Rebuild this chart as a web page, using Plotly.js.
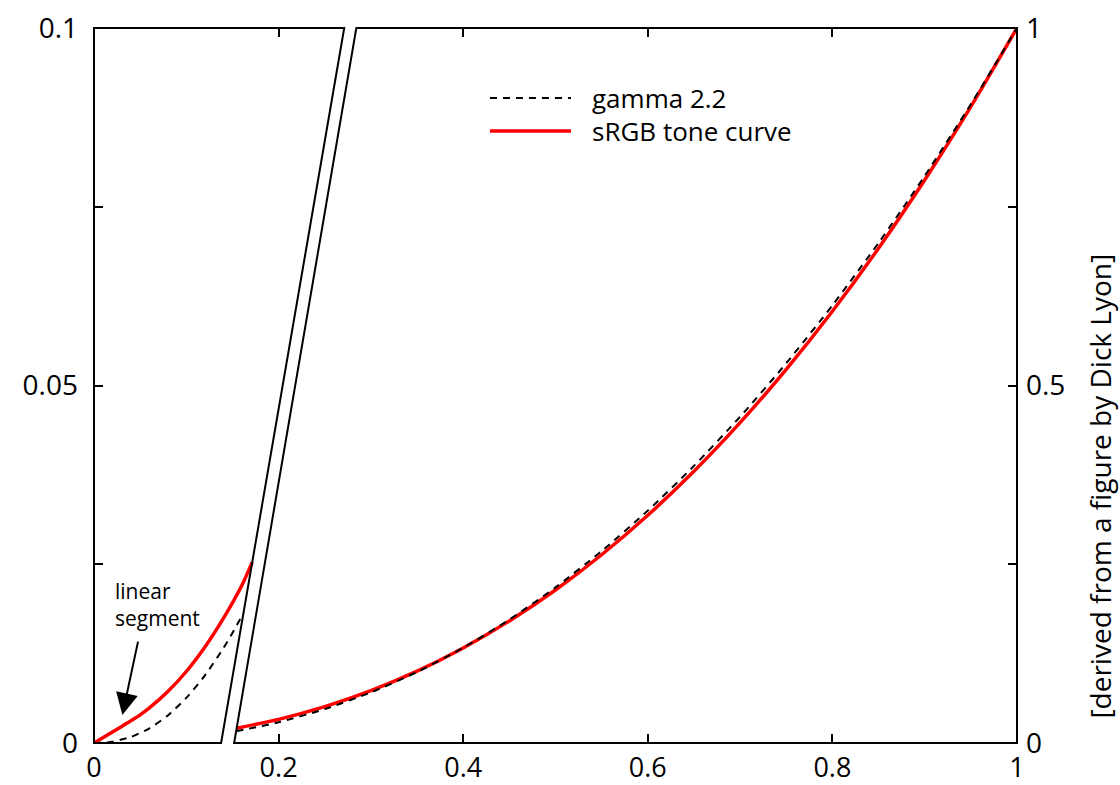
<!DOCTYPE html>
<html>
<head>
<meta charset="utf-8">
<script src="https://cdn.plot.ly/plotly-3.0.1.min.js"></script>
<style>
  html, body { margin: 0; padding: 0; background: #fff; }
  #chart { width: 1120px; height: 785px; }
</style>
</head>
<body>
<div id="chart"></div>
<script>
// ---- Data ----
// Left (zoomed) panel, left axis 0..0.1
const xSrgbLeft   = [0, 0.01, 0.02, 0.03, 0.04, 0.05, 0.06, 0.08, 0.10, 0.12, 0.14, 0.16, 0.1715];
const ySrgbLeft   = [0, 0.00077, 0.00155, 0.00232, 0.0031, 0.00393, 0.0049, 0.0072, 0.0100, 0.0134, 0.0174, 0.0220, 0.0253];
const xGammaLeft  = [0, 0.01, 0.02, 0.04, 0.06, 0.08, 0.10, 0.12, 0.14, 0.15, 0.162];
const yGammaLeft  = [0, 0.00004, 0.00018, 0.00084, 0.00205, 0.00386, 0.00631, 0.00943, 0.01322, 0.01539, 0.0182];

// Right (full) panel, right axis 0..1
const xSrgbRight  = [0.1545, 0.2, 0.25, 0.3, 0.35, 0.4, 0.45, 0.5, 0.55, 0.6, 0.65, 0.7, 0.75, 0.8, 0.85, 0.9, 0.95, 1.0];
const ySrgbRight  = [0.0207, 0.0331, 0.0509, 0.0732, 0.1004, 0.1329, 0.1707, 0.2140, 0.2633, 0.3185, 0.3800, 0.4480, 0.5225, 0.6038, 0.6920, 0.7874, 0.8900, 1.0];
const xGammaRight = [0.154, 0.2, 0.25, 0.3, 0.35, 0.4, 0.45, 0.5, 0.55, 0.6, 0.65, 0.7, 0.75, 0.8, 0.85, 0.9, 0.95, 1.0];
const yGammaRight = [0.0164, 0.0290, 0.0474, 0.0707, 0.0993, 0.1332, 0.1726, 0.2176, 0.2684, 0.3250, 0.3876, 0.4563, 0.5311, 0.6121, 0.6994, 0.7931, 0.8933, 1.0];

// Tick labels
const xTickVals  = [0, 0.2, 0.4, 0.6, 0.8, 1];
const xTickText  = ['0', '0.2', '0.4', '0.6', '0.8', '1'];
const yTickVals  = [0, 0.025, 0.05, 0.075, 0.1];
const yTickText  = ['0', '', '0.05', '', '0.1'];
const y2TickVals = [0, 0.25, 0.5, 0.75, 1];
const y2TickText = ['0', '', '0.5', '', '1'];

const legendNames = ['gamma 2.2', 'sRGB tone curve'];

// ---- Styles ----
const FONT = 'Open Sans, DejaVu Sans, sans-serif';
const redLine  = { color: '#ff0000', width: 3.5, shape: 'spline', smoothing: 0.6 };
const dashLine = { color: '#000000', width: 2, dash: '7px,6px', shape: 'spline', smoothing: 0.6 };

const traces = [
  { x: xSrgbLeft,  y: ySrgbLeft,  yaxis: 'y',  mode: 'lines', line: redLine,  name: legendNames[1], hoverinfo: 'skip' },
  { x: xGammaLeft, y: yGammaLeft, yaxis: 'y',  mode: 'lines', line: dashLine, name: legendNames[0], hoverinfo: 'skip' },
  { x: xSrgbRight,  y: ySrgbRight,  yaxis: 'y2', mode: 'lines', line: redLine,  name: legendNames[1], hoverinfo: 'skip' },
  { x: xGammaRight, y: yGammaRight, yaxis: 'y2', mode: 'lines', line: dashLine, name: legendNames[0], hoverinfo: 'skip' }
];

// broken frame (paper coordinates: x same as data, y = fraction of height)
const frameLine = { color: '#000', width: 2 };
const shapes = [
  { type: 'path', xref: 'paper', yref: 'paper', path: 'M0,0 L0.1377,0 L0.2711,1 L0,1 Z', line: frameLine, layer: 'above' },
  { type: 'path', xref: 'paper', yref: 'paper', path: 'M0.1518,0 L1,0 L1,1 L0.2842,1 Z', line: frameLine, layer: 'above' },
  // legend samples
  { type: 'line', xref: 'paper', yref: 'paper', x0: 0.429, x1: 0.5168, y0: 0.9021, y1: 0.9021,
    line: { color: '#000', width: 2, dash: '7px,6px' } },
  { type: 'line', xref: 'paper', yref: 'paper', x0: 0.429, x1: 0.5168, y0: 0.8559, y1: 0.8559,
    line: { color: '#ff0000', width: 3.5 } }
];

const annotations = [
  { xref: 'paper', yref: 'paper', x: 0.5374, y: 0.9021, xanchor: 'left', yanchor: 'middle',
    text: legendNames[0], showarrow: false, font: { family: FONT, size: 26, color: '#000' } },
  { xref: 'paper', yref: 'paper', x: 0.5374, y: 0.8559, xanchor: 'left', yanchor: 'middle',
    text: legendNames[1], showarrow: false, font: { family: FONT, size: 26, color: '#000' } },
  { xref: 'paper', yref: 'paper', x: 0.0206, y: 0.1937, xanchor: 'left', yanchor: 'middle', align: 'left',
    text: 'linear<br>segment', showarrow: false, font: { family: FONT, size: 21, color: '#000' } },
  { xref: 'x', yref: 'y', x: 0.0307, y: 0.0039, ax: 16, ay: -75, text: '',
    showarrow: true, arrowhead: 2, arrowsize: 2.2, arrowwidth: 2, arrowcolor: '#000' },
  { xref: 'paper', yref: 'paper', x: 1.0889, y: 0.3587, xanchor: 'center', yanchor: 'middle',
    text: '[derived from a figure by Dick Lyon]', textangle: -90, showarrow: false,
    font: { family: FONT, size: 28, color: '#000' } }
];

const layout = {
  width: 1120, height: 785,
  margin: { l: 94, r: 103, t: 28, b: 42, pad: 0 },
  paper_bgcolor: '#fff', plot_bgcolor: '#fff',
  showlegend: false,
  font: { family: FONT, size: 27, color: '#000' },
  xaxis: {
    range: [0, 1], showgrid: false, zeroline: false, showline: false,
    tickmode: 'array', tickvals: xTickVals, ticktext: xTickText,
    ticks: 'inside', ticklen: 9, tickwidth: 2, tickcolor: '#000', mirror: 'ticks',
    tickfont: { family: FONT, size: 27, color: '#000' }, ticklabelstandoff: 6, fixedrange: true
  },
  yaxis: {
    range: [0, 0.1], showgrid: false, zeroline: false, showline: false,
    tickmode: 'array', tickvals: yTickVals, ticktext: yTickText,
    ticks: 'inside', ticklen: 9, tickwidth: 2, tickcolor: '#000',
    tickfont: { family: FONT, size: 28, color: '#000' }, ticklabelstandoff: 15, fixedrange: true
  },
  yaxis2: {
    range: [0, 1], overlaying: 'y', side: 'right', showgrid: false, zeroline: false, showline: false,
    tickmode: 'array', tickvals: y2TickVals, ticktext: y2TickText,
    ticks: 'inside', ticklen: 9, tickwidth: 2, tickcolor: '#000',
    tickfont: { family: FONT, size: 28, color: '#000' }, ticklabelstandoff: 8, fixedrange: true
  },
  shapes: shapes,
  annotations: annotations
};

Plotly.newPlot('chart', traces, layout, { displayModeBar: false, staticPlot: true });
</script>
</body>
</html>
